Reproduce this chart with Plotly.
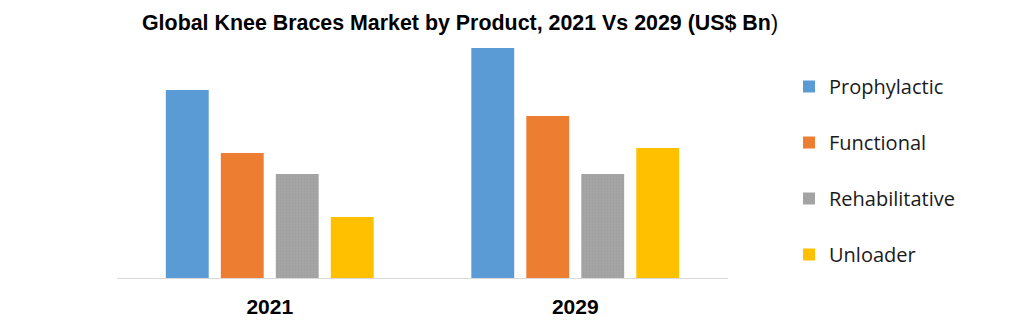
import plotly.graph_objects as go

years = ["2021", "2029"]
products = ["Prophylactic", "Functional", "Rehabilitative", "Unloader"]
prophylactic = [1.88, 2.30]
functional = [1.25, 1.62]
rehabilitative = [1.04, 1.04]
unloader = [0.61, 1.30]
colors = ["#5B9BD5", "#ED7D31", "#A5A5A5", "#FFC000"]

series = [prophylactic, functional, rehabilitative, unloader]

fig = go.Figure()
for name, vals, col in zip(products, series, colors):
    marker = dict(color=col, line=dict(width=0))
    if name == "Rehabilitative":
        marker["pattern"] = dict(shape=".", fgcolor="#999999", bgcolor=col,
                                 size=3, solidity=0.4)
    fig.add_trace(go.Bar(x=years, y=vals, name=name, marker=marker,
                         legendgroup=name))

W, H = 1032, 322
left, right, top, bottom = 117, W - 728, 40, 44
plot_w = W - left - right
plot_h = H - top - bottom
ymax = 2.30 * plot_h / 230.0

fig.update_layout(
    width=W, height=H,
    margin=dict(l=left, r=right, t=top, b=bottom, autoexpand=False),
    paper_bgcolor="white", plot_bgcolor="white",
    barmode="group", bargap=0.28, bargroupgap=0.22,
    title=dict(text="<b>Global Knee Braces Market by Product, 2021 Vs 2029 (US$ Bn</b>)",
               x=460 / W, xanchor="center", y=1 - 23 / H, yanchor="middle",
               font=dict(family="Liberation Sans, Arial, sans-serif", size=21.4, color="black")),
    xaxis=dict(showgrid=False, showline=True, linecolor="#D9D9D9", linewidth=1,
               ticks="", ticklabelstandoff=10,
               tickfont=dict(family="Liberation Sans, Arial, sans-serif", size=21, color="black")),
    yaxis=dict(range=[0, ymax], visible=False),
    legend=dict(x=(789 - left) / plot_w, xanchor="left",
                y=(H - bottom - 67) / plot_h, yanchor="top",
                font=dict(family="Open Sans, sans-serif", size=20, color="#1a1a1a"),
                traceorder="grouped", tracegroupgap=27, itemwidth=30,
                bgcolor="rgba(0,0,0,0)"),
)
fig.update_xaxes(tickprefix="<b>", ticksuffix="</b>")

fig.write_html("out.html")
